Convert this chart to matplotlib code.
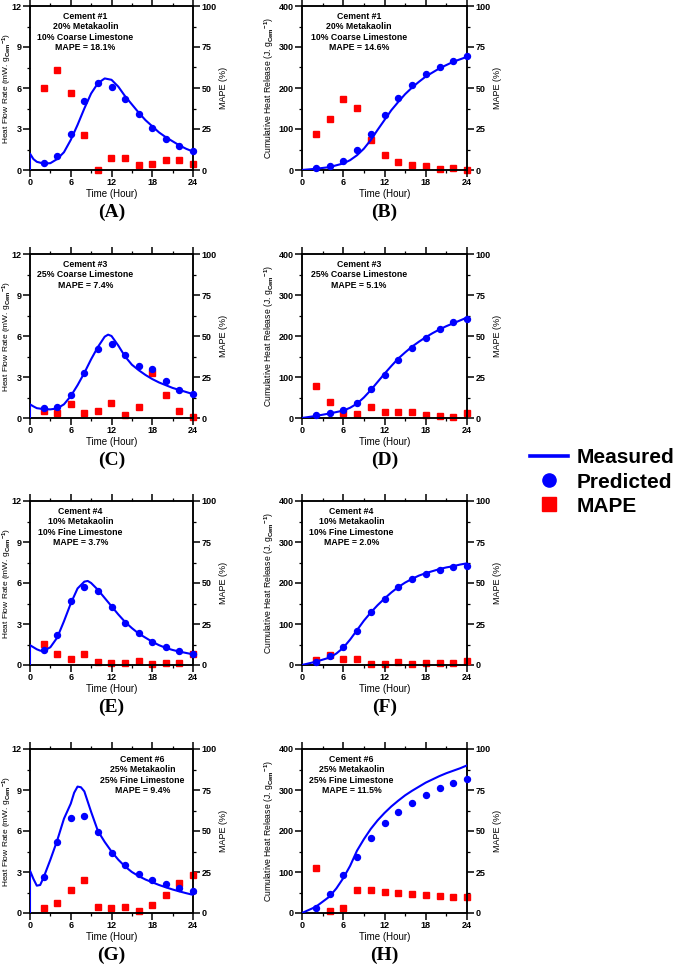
import numpy as np
import matplotlib
matplotlib.use('Agg')
import matplotlib.pyplot as plt
from matplotlib.lines import Line2D
from matplotlib.ticker import MultipleLocator

plt.rcParams['font.family'] = ['Liberation Sans', 'DejaVu Sans']
plt.rcParams['font.weight'] = 'bold'
plt.rcParams['mathtext.fontset'] = 'custom'
plt.rcParams['mathtext.rm'] = 'Liberation Sans:bold'
plt.rcParams['mathtext.bf'] = 'Liberation Sans:bold'
plt.rcParams['mathtext.it'] = 'Liberation Sans:bold'
plt.rcParams['mathtext.default'] = 'bf'

# pontos de tempo das previsoes / MAPE
t_pts = [2, 4, 6, 8, 10, 12, 14, 16, 18, 20, 22, 24]

# ---- (A) Cement #1 fluxo de calor
tA = [0, 0, 0.5, 1, 2, 3, 4, 5, 6, 7, 8, 9, 10, 11, 12, 13, 14, 15, 16, 17, 18, 19, 20, 21, 22, 23, 24]
medA = [0, 1.2, 0.8, 0.6, 0.47, 0.5, 0.8, 1.3, 2.2, 3.3, 4.5, 5.6, 6.35, 6.7, 6.6, 6.1, 5.4, 4.8, 4.2, 3.65, 3.2, 2.75, 2.4, 2.1, 1.8, 1.55, 1.35]
predA = [0.54, 1.0, 2.63, 5.07, 6.39, 6.07, 5.17, 4.12, 3.07, 2.27, 1.73, 1.39]
mapeA = [50.2, 61.0, 47.2, 21.1, 0.2, 7.1, 7.3, 3.0, 3.5, 5.9, 5.9, 3.7]

# ---- (B) Cement #1 calor acumulado
tB = [0, 2, 4, 6, 7, 8, 9, 10, 11, 12, 13, 14, 15, 16, 17, 18, 19, 20, 21, 22, 23, 24]
medB = [0, 3, 7, 16, 24, 36, 52, 73, 98, 122, 146, 166, 185, 201, 215, 228, 238, 248, 256, 264, 270, 276]
predB = [4.9, 9, 21, 49, 89, 134, 176, 208, 235, 251, 267, 277]
mapeB = [22.2, 31.3, 43.3, 38.0, 18.3, 8.9, 5.1, 2.8, 2.2, 0.8, 1.4, 0.2]

# ---- (C) Cement #3 fluxo de calor
tC = [0, 0, 0.5, 1, 2, 3, 4, 5, 6, 7, 8, 9, 10, 11, 11.5, 12, 13, 14, 15, 16, 17, 18, 19, 20, 21, 22, 23, 24]
medC = [0, 1.0, 0.85, 0.72, 0.65, 0.63, 0.7, 1.0, 1.6, 2.4, 3.3, 4.3, 5.2, 5.95, 6.1, 6.0, 5.3, 4.5, 3.9, 3.5, 3.15, 2.85, 2.6, 2.4, 2.2, 2.05, 1.9, 1.75]
predC = [0.71, 0.83, 1.71, 3.28, 5.05, 5.41, 4.6, 3.8, 3.6, 2.69, 2.08, 1.74]
mapeC = [4.1, 2.9, 8.8, 3.3, 4.5, 9.2, 1.6, 6.9, 27.6, 14.3, 4.5, 0.8]

# ---- (D) Cement #3 calor acumulado
tD = [0, 2, 4, 6, 7, 8, 9, 10, 11, 12, 13, 14, 15, 16, 17, 18, 19, 20, 21, 22, 23, 24]
medD = [0, 5, 11, 18, 25, 35, 50, 68, 88, 108, 127, 145, 160, 174, 186, 197, 207, 216, 224, 231, 238, 245]
predD = [6.5, 12, 20, 37, 70, 104, 142, 170, 195, 216, 233, 241]
mapeD = [19.8, 10.0, 3.3, 2.7, 6.5, 3.9, 3.9, 3.9, 2.0, 1.2, 0.4, 3.1]

# ---- (E) Cement #4 fluxo de calor
tE = [0, 0, 0.5, 1, 1.5, 2, 3, 4, 5, 6, 7, 8, 8.5, 9, 10, 11, 12, 13, 14, 15, 16, 17, 18, 19, 20, 21, 22, 23, 24]
medE = [0, 1.45, 1.3, 1.15, 1.05, 1.02, 1.3, 2.0, 3.2, 4.5, 5.6, 6.1, 6.15, 6.0, 5.5, 4.9, 4.3, 3.7, 3.15, 2.7, 2.3, 2.0, 1.7, 1.45, 1.25, 1.1, 0.98, 0.88, 0.78]
predE = [1.12, 2.2, 4.67, 5.74, 5.38, 4.26, 3.09, 2.31, 1.7, 1.31, 1.0, 0.78]
mapeE = [12.8, 6.5, 3.4, 6.7, 2.0, 1.0, 1.2, 2.2, 0.6, 1.4, 1.4, 6.5]

# ---- (F) Cement #4 calor acumulado
tF = [0, 2, 4, 5, 6, 7, 8, 9, 10, 11, 12, 13, 14, 15, 16, 17, 18, 19, 20, 21, 22, 23, 24]
medF = [0, 8, 18, 28, 42, 62, 85, 108, 128, 146, 162, 177, 190, 201, 210, 218, 224, 229, 234, 238, 241, 245, 248]
predF = [8, 21, 44, 83, 129, 162, 191, 209, 221, 232, 239, 242]
mapeF = [3.2, 5.9, 3.9, 3.7, 0.6, 0.8, 1.6, 0.6, 1.0, 1.0, 1.4, 2.4]

# ---- (G) Cement #6 fluxo de calor
tG = [0, 0, 0.5, 1, 1.5, 2, 3, 4, 5, 6, 6.5, 7, 7.5, 8, 9, 10, 11, 12, 13, 14, 15, 16, 17, 18, 19, 20, 21, 22, 23, 24]
medG = [0, 3.1, 2.5, 2.0, 2.05, 2.6, 3.9, 5.3, 6.9, 8.0, 8.8, 9.25, 9.2, 8.9, 7.4, 6.0, 5.2, 4.5, 3.9, 3.4, 3.0, 2.7, 2.45, 2.25, 2.05, 1.88, 1.72, 1.58, 1.45, 1.33]
predG = [2.66, 5.2, 6.93, 7.07, 5.93, 4.41, 3.49, 2.85, 2.44, 2.1, 1.85, 1.63]
mapeG = [2.8, 6.1, 14.2, 19.9, 3.9, 2.8, 3.9, 1.2, 4.7, 11.2, 18.3, 23.2]

# ---- (H) Cement #6 calor acumulado
tH = [0, 2, 4, 5, 6, 7, 8, 9, 10, 11, 12, 13, 14, 15, 16, 17, 18, 19, 20, 21, 22, 23, 24]
medH = [0, 15, 40, 60, 85, 115, 152, 180, 205, 226, 244, 260, 274, 287, 298, 308, 318, 326, 334, 341, 347, 353, 360]
predH = [12, 46, 92, 137, 183, 219, 246, 268, 288, 304, 317, 326]
mapeH = [27.4, 1.0, 3.0, 14.2, 14.2, 12.8, 12.0, 11.6, 10.8, 10.2, 9.6, 9.8]

textos = [
    "Cement #1\n20% Metakaolin\n10% Coarse Limestone\nMAPE = 18.1%",
    "Cement #1\n20% Metakaolin\n10% Coarse Limestone\nMAPE = 14.6%",
    "Cement #3\n25% Coarse Limestone\nMAPE = 7.4%",
    "Cement #3\n25% Coarse Limestone\nMAPE = 5.1%",
    "Cement #4\n10% Metakaolin\n10% Fine Limestone\nMAPE = 3.7%",
    "Cement #4\n10% Metakaolin\n10% Fine Limestone\nMAPE = 2.0%",
    "Cement #6\n25% Metakaolin\n25% Fine Limestone\nMAPE = 9.4%",
    "Cement #6\n25% Metakaolin\n25% Fine Limestone\nMAPE = 11.5%",
]
letras = ['(A)', '(B)', '(C)', '(D)', '(E)', '(F)', '(G)', '(H)']
texto_x = [0.34, 0.345, 0.34, 0.345, 0.31, 0.30, 0.69, 0.30]

paineis = [
    (tA, medA, predA, mapeA), (tB, medB, predB, mapeB),
    (tC, medC, predC, mapeC), (tD, medD, predD, mapeD),
    (tE, medE, predE, mapeE), (tF, medF, predF, mapeF),
    (tG, medG, predG, mapeG), (tH, medH, predH, mapeH),
]

W, H = 685, 968
fig = plt.figure(figsize=(W / 100, H / 100), dpi=100)

col_esq = [30, 302]
col_larg = [163, 165]
lin_topo = [6, 254, 501, 749]
alt = 164

AZUL = '#0000ff'
VERM = '#ff0000'


def estilo(ax, lado):
    for s in ax.spines.values():
        s.set_linewidth(1.1)
    ax.tick_params(which='major', direction='out', length=5, width=1.1, labelsize=6.5, pad=1)
    ax.tick_params(which='minor', direction='out', length=2.5, width=0.9)
    if lado == 'l':
        ax.tick_params(which='both', top=True, labeltop=False)


for i, (t, med, pred, mape) in enumerate(paineis):
    lin, col = i // 2, i % 2
    x0 = col_esq[col] / W
    y0 = 1 - (lin_topo[lin] + alt) / H
    ax = fig.add_axes([x0, y0, col_larg[col] / W, alt / H])
    ax2 = ax.twinx()

    ax.plot(t, med, color=AZUL, lw=1.5, zorder=3)
    ax.plot(t_pts, pred, 'o', color=AZUL, ms=4.3, zorder=4, clip_on=False)
    ax2.plot(t_pts, mape, 's', color=VERM, ms=4.0, clip_on=False)

    ax.set_zorder(ax2.get_zorder() + 1)
    ax.patch.set_visible(False)

    ax.set_xlim(0, 24)
    ax.set_xticks([0, 6, 12, 18, 24])
    ax.xaxis.set_minor_locator(MultipleLocator(3))
    if col == 0:
        ax.set_ylim(0, 12)
        ax.set_yticks([0, 3, 6, 9, 12])
        ax.yaxis.set_minor_locator(MultipleLocator(1.5))
        ax.set_ylabel(r'Heat Flow Rate (mW. g$_{Cem}$$^{-1}$)', fontsize=6)
        ax.yaxis.set_label_coords(-0.098, 0.5)
    else:
        ax.set_ylim(0, 400)
        ax.set_yticks([0, 100, 200, 300, 400])
        ax.yaxis.set_minor_locator(MultipleLocator(50))
        ax.set_ylabel(r'Cumulative Heat Release (J. g$_{Cem}$$^{-1}$)', fontsize=6.2)
        ax.yaxis.set_label_coords(-0.155, 0.5)
    ax2.set_ylim(0, 100)
    ax2.set_yticks([0, 25, 50, 75, 100])
    ax2.yaxis.set_minor_locator(MultipleLocator(12.5))
    ax2.set_ylabel('MAPE (%)', fontsize=6.5, labelpad=2)
    ax.set_xlabel('Time (Hour)', fontsize=7, labelpad=1)

    estilo(ax, 'l')
    estilo(ax2, 'r')

    ax.text(texto_x[i], 0.963, textos[i], transform=ax.transAxes, ha='center', va='top',
            fontsize=6.3, fontweight='bold', linespacing=1.2)
    ax.text(0.5, -0.26, letras[i], transform=ax.transAxes, ha='center', va='center',
            fontsize=14, fontweight='bold', family='Liberation Serif')

# legenda
alcas = [
    Line2D([], [], color=AZUL, lw=2.6),
    Line2D([], [], color=AZUL, marker='o', ls='none', ms=9.5),
    Line2D([], [], color=VERM, marker='s', ls='none', ms=9.5),
]
fig.legend(alcas, ['Measured', 'Predicted', 'MAPE'], loc='center left',
           bbox_to_anchor=(520 / W, 1 - 482 / H), frameon=False,
           prop={'family': 'Liberation Sans', 'weight': 'bold', 'size': 15},
           handlelength=1.8, handletextpad=0.4, labelspacing=0.25, borderpad=0)

plt.savefig('out.png', dpi=100)
